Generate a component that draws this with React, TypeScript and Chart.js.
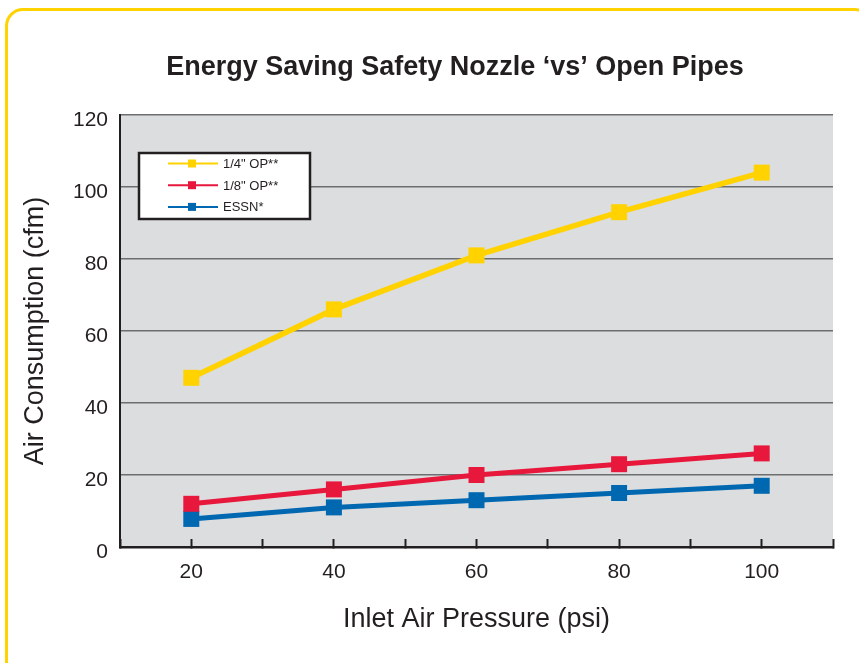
import React, { useEffect, useRef } from "react";
import { Chart, registerables } from "chart.js";

Chart.register(...registerables);

const titleText = "Energy Saving Safety Nozzle \u2018vs\u2019 Open Pipes";
const xTitle = "Inlet Air Pressure (psi)";
const yTitle = "Air Consumption (cfm)";
const pressures = [20, 40, 60, 80, 100];
const seriesNames = ['1/4" OP**', '1/8" OP**', "ESSN*"];
const seriesColors = ["#FFD200", "#E8173C", "#0067B1"];
const quarterOP = [47, 66, 81, 93, 104];
const eighthOP = [12, 16, 20, 23, 26];
const essn = [7.8, 11, 13, 15, 17];
const seriesValues = [quarterOP, eighthOP, essn];
const xMin = 10, xMax = 110, xStep = 10, xLabelStep = 20;
const yMin = 0, yMax = 120, yStep = 20;

const FONT = "'Liberation Sans', Arial, Helvetica, sans-serif";
const INK = "#231f20";

const decorPlugin = {
  id: "decor",
  beforeDraw(chart: any) {
    const { ctx, chartArea } = chart;
    ctx.save();
    ctx.fillStyle = "#dcdddf";
    ctx.fillRect(chartArea.left, chartArea.top, chartArea.right - chartArea.left, chartArea.bottom - chartArea.top);
    ctx.restore();
  },
  afterDraw(chart: any) {
    const { ctx } = chart;
    ctx.save();
    // title
    ctx.fillStyle = INK;
    ctx.font = `bold 27px ${FONT}`;
    ctx.textAlign = "center";
    ctx.textBaseline = "middle";
    ctx.fillText(titleText, 455, 68);
    // legend
    const bx = 139, by = 153, bw = 171, bh = 66;
    ctx.fillStyle = "#ffffff";
    ctx.fillRect(bx, by, bw, bh);
    ctx.strokeStyle = INK;
    ctx.lineWidth = 2.5;
    ctx.strokeRect(bx, by, bw, bh);
    chart.data.datasets.forEach((ds: any, i: number) => {
      const y = 163.5 + i * 21.7;
      ctx.strokeStyle = ds.borderColor;
      ctx.lineWidth = 2;
      ctx.beginPath();
      ctx.moveTo(168, y);
      ctx.lineTo(218, y);
      ctx.stroke();
      ctx.fillStyle = ds.borderColor;
      ctx.fillRect(188, y - 4, 8, 8);
      ctx.fillStyle = INK;
      ctx.font = `13px ${FONT}`;
      ctx.textAlign = "left";
      ctx.textBaseline = "middle";
      ctx.fillText(ds.label, 223, y + 1);
    });
    ctx.restore();
  },
};

export default function App() {
  const ref = useRef<HTMLCanvasElement>(null);
  useEffect(() => {
    if (!ref.current) return;
    const chart = new Chart(ref.current, {
      type: "line",
      data: {
        datasets: seriesNames.map((name, i) => ({
          label: name,
          data: pressures.map((p, j) => ({ x: p, y: seriesValues[i][j] })),
          borderColor: seriesColors[i],
          backgroundColor: seriesColors[i],
          borderWidth: i === 0 ? 5.5 : 5,
          pointStyle: "rect",
          pointRadius: 11.3,
          pointBorderWidth: 0,
          pointBackgroundColor: seriesColors[i],
          tension: 0,
          fill: false,
        })),
      },
      options: {
        animation: false,
        responsive: false,
        maintainAspectRatio: false,
        layout: { padding: { left: 0, top: 115, right: 26, bottom: 0 } },
        plugins: { legend: { display: false }, title: { display: false }, tooltip: { enabled: false } },
        scales: {
          x: {
            type: "linear",
            min: xMin,
            max: xMax,
            afterFit: (s: any) => { s.height = 116; },
            afterBuildTicks: (s: any) => {
              const t = [];
              for (let v = xMin; v <= xMax; v += xStep) t.push({ value: v });
              s.ticks = t;
            },
            ticks: {
              stepSize: xStep,
              autoSkip: false,
              maxRotation: 0,
              padding: 21,
              color: INK,
              font: { family: FONT, size: 21 },
              callback: (v: any) => (v % xLabelStep === 0 && v !== xMin && v !== xMax ? String(v) : ""),
            },
            grid: {
              drawOnChartArea: false,
              drawTicks: true,
              tickLength: -8,
              tickColor: INK,
              tickWidth: 2,
              color: INK,
            },
            border: { display: true, color: INK, width: 2.5 },
            title: {
              display: true,
              text: xTitle,
              color: INK,
              font: { family: FONT, size: 27 },
              padding: { top: 0, bottom: 27 },
            },
          },
          y: {
            min: yMin,
            max: yMax,
            afterFit: (s: any) => { s.width = 120; },
            ticks: {
              stepSize: yStep,
              padding: 12,
              labelOffset: 5,
              color: INK,
              font: { family: FONT, size: 21 },
            },
            grid: { drawTicks: false, color: "#6d6e70", lineWidth: 1.5 },
            border: { display: true, color: INK, width: 2 },
            title: {
              display: true,
              text: yTitle,
              color: INK,
              font: { family: FONT, size: 27 },
              padding: { top: 19, bottom: 0 },
            },
          },
        },
      },
      plugins: [decorPlugin],
    });
    return () => chart.destroy();
  }, []);

  return (
    <div style={{ position: "fixed", left: 0, top: 0, width: 859, height: 663, overflow: "hidden", background: "#fff" }}>
      <div
        style={{
          position: "absolute",
          left: 5,
          top: 8,
          width: 868,
          height: 720,
          border: "3px solid #FFD200",
          borderRadius: 18,
          boxSizing: "border-box",
        }}
      />
      <canvas ref={ref} width={859} height={663} style={{ position: "absolute", left: 0, top: 0, width: 859, height: 663 }} />
    </div>
  );
}
